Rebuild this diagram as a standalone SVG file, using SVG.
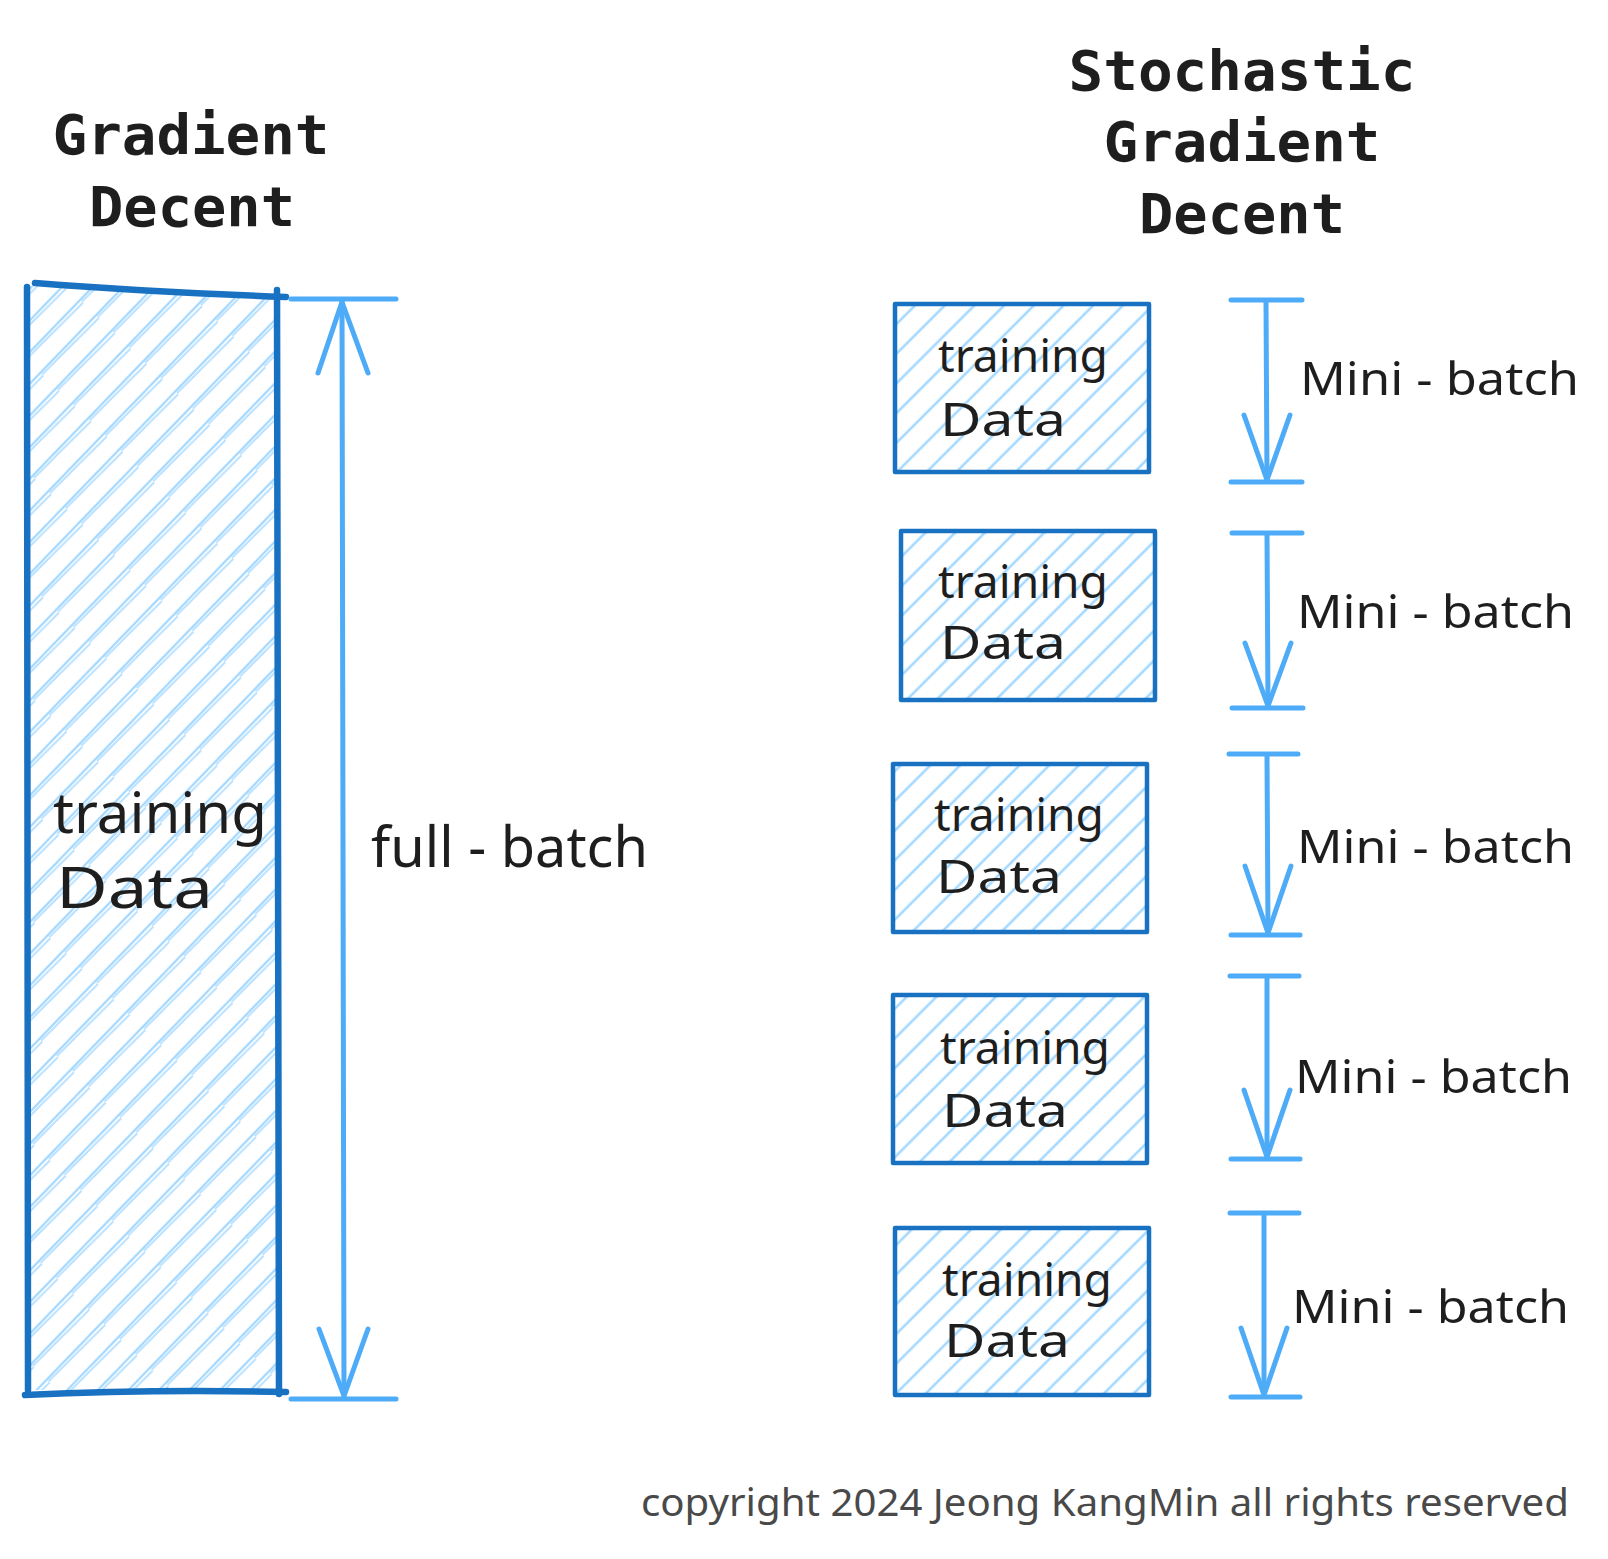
<svg xmlns="http://www.w3.org/2000/svg" width="1608" height="1559" viewBox="0 0 1608 1559">
<defs>
<pattern id="hatch" patternUnits="userSpaceOnUse" width="21" height="21" patternTransform="rotate(45)">
<line x1="2" y1="0" x2="2" y2="21" stroke="#a5d8ff" stroke-width="2.6"/>
</pattern>
<pattern id="hatchBig" patternUnits="userSpaceOnUse" width="22" height="80" patternTransform="rotate(44)">
<line x1="2" y1="0" x2="2" y2="80" stroke="#a5d8ff" stroke-width="2.3"/>
<line x1="6" y1="0" x2="4.5" y2="80" stroke="#a5d8ff" stroke-width="1.8" opacity="0.85"/>
</pattern>
<style>
.title{font-family:"DejaVu Sans Mono","Liberation Mono",monospace;font-weight:bold;font-size:56px;fill:#1e1e1e;text-anchor:middle}
.hand{font-family:"Noto Sans","Liberation Sans",sans-serif;fill:#1e1e1e}
.box{fill:url(#hatch);stroke:#1971c2;stroke-width:4.5;stroke-linejoin:round}
.edge{fill:none;stroke:#1971c2;stroke-width:6.5;stroke-linecap:round}
.dim{fill:none;stroke:#4dabf7;stroke-width:5;stroke-linecap:round;stroke-linejoin:round}
</style>
</defs>
<rect width="1608" height="1559" fill="#ffffff"/>

<g id="title-gd">
<text class="title" x="191" y="154" textLength="277" lengthAdjust="spacingAndGlyphs">Gradient</text>
<text class="title" x="192" y="226" textLength="206" lengthAdjust="spacingAndGlyphs">Decent</text>
</g>
<g id="title-sgd">
<text class="title" x="1242" y="90" textLength="347" lengthAdjust="spacingAndGlyphs">Stochastic</text>
<text class="title" x="1242" y="161" textLength="277" lengthAdjust="spacingAndGlyphs">Gradient</text>
<text class="title" x="1242" y="233" textLength="206" lengthAdjust="spacingAndGlyphs">Decent</text>
</g>

<g id="full-data">
<path d="M28,286 Q150,290 278,296 L278,1391 L28,1390 Z" fill="url(#hatchBig)"/>
<path class="edge" d="M27,287 L28,1390"/>
<path class="edge" d="M35,283 Q150,292 286,297"/>
<path class="edge" d="M277,290 L279,1394"/>
<path class="edge" d="M25,1395 Q150,1389 286,1392"/>
<text class="hand" font-size="56" x="53" y="833" textLength="214" lengthAdjust="spacingAndGlyphs">training</text>
<text class="hand" font-size="56" x="56" y="908" textLength="157" lengthAdjust="spacingAndGlyphs">Data</text>
</g>

<g id="box1">
<rect class="box" x="895" y="304" width="254" height="168"/>
<text class="hand" font-size="46" x="938" y="372" textLength="170" lengthAdjust="spacingAndGlyphs">training</text>
<text class="hand" font-size="46" x="940" y="436" textLength="126" lengthAdjust="spacingAndGlyphs">Data</text>
</g>
<g id="box2">
<rect class="box" x="901" y="531" width="254" height="169"/>
<text class="hand" font-size="46" x="938" y="598" textLength="170" lengthAdjust="spacingAndGlyphs">training</text>
<text class="hand" font-size="46" x="940" y="659" textLength="126" lengthAdjust="spacingAndGlyphs">Data</text>
</g>
<g id="box3">
<rect class="box" x="893" y="764" width="254" height="168"/>
<text class="hand" font-size="46" x="934" y="831" textLength="170" lengthAdjust="spacingAndGlyphs">training</text>
<text class="hand" font-size="46" x="936" y="893" textLength="126" lengthAdjust="spacingAndGlyphs">Data</text>
</g>
<g id="box4">
<rect class="box" x="893" y="995" width="254" height="168"/>
<text class="hand" font-size="46" x="940" y="1064" textLength="170" lengthAdjust="spacingAndGlyphs">training</text>
<text class="hand" font-size="46" x="942" y="1127" textLength="126" lengthAdjust="spacingAndGlyphs">Data</text>
</g>
<g id="box5">
<rect class="box" x="895" y="1228" width="254" height="167"/>
<text class="hand" font-size="46" x="942" y="1296" textLength="170" lengthAdjust="spacingAndGlyphs">training</text>
<text class="hand" font-size="46" x="944" y="1357" textLength="126" lengthAdjust="spacingAndGlyphs">Data</text>
</g>

<g id="connectors">
<g id="dim-full">
<path class="dim" d="M291,299 L396,299 M291,1399 L396,1399 M342,302 L344,1396"/>
<path class="dim" d="M318,373 L342,302 L368,373"/>
<path class="dim" d="M319,1329 L344,1396 L368,1329"/>
</g>
<g id="dim-mini1">
<path class="dim" d="M1231,300 L1302,300 M1231,482 L1302,482 M1266,302 L1267,480"/>
<path class="dim" d="M1244,415 L1267,480 L1290,415"/>
</g>
<g id="dim-mini2">
<path class="dim" d="M1232,533 L1302,533 M1232,708 L1303,708 M1267,535 L1268,706"/>
<path class="dim" d="M1245,643 L1268,706 L1291,643"/>
</g>
<g id="dim-mini3">
<path class="dim" d="M1229,754 L1298,754 M1231,935 L1300,935 M1267,756 L1268,933"/>
<path class="dim" d="M1245,866 L1268,933 L1291,866"/>
</g>
<g id="dim-mini4">
<path class="dim" d="M1230,976 L1299,976 M1231,1159 L1300,1159 M1267,978 L1267,1157"/>
<path class="dim" d="M1244,1090 L1267,1157 L1290,1090"/>
</g>
<g id="dim-mini5">
<path class="dim" d="M1230,1213 L1299,1213 M1231,1397 L1300,1397 M1264,1215 L1264,1395"/>
<path class="dim" d="M1241,1328 L1264,1395 L1287,1328"/>
</g>
</g>

<g id="labels">
<text class="hand" font-size="56" x="371" y="867" textLength="277" lengthAdjust="spacingAndGlyphs">full - batch</text>
<text class="hand" font-size="46" x="1300" y="395" textLength="279" lengthAdjust="spacingAndGlyphs">Mini - batch</text>
<text class="hand" font-size="46" x="1297" y="628" textLength="277" lengthAdjust="spacingAndGlyphs">Mini - batch</text>
<text class="hand" font-size="46" x="1297" y="863" textLength="277" lengthAdjust="spacingAndGlyphs">Mini - batch</text>
<text class="hand" font-size="46" x="1295" y="1093" textLength="277" lengthAdjust="spacingAndGlyphs">Mini - batch</text>
<text class="hand" font-size="46" x="1292" y="1323" textLength="277" lengthAdjust="spacingAndGlyphs">Mini - batch</text>
<text class="hand" font-size="38" x="641" y="1516" textLength="928" lengthAdjust="spacingAndGlyphs" style="fill:#494949">copyright 2024 Jeong KangMin all rights reserved</text>
</g>
</svg>
